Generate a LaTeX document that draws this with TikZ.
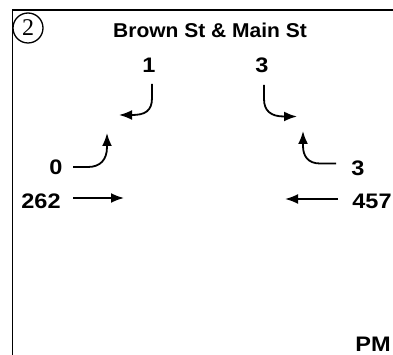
\documentclass[tikz,border=0pt]{standalone}
\usepackage{fontspec}
\setmainfont{Liberation Sans}
\newfontfamily\zonefont{Liberation Serif}
\usetikzlibrary{arrows.meta}

\tikzset{
  count/.style={font=\fontsize{21}{21}\selectfont\bfseries, xscale=1.12, inner sep=0pt},
  move/.style={line width=1.8pt, -{Latex[length=13pt,width=10pt]}},
}

\begin{document}
\begin{tikzpicture}[x=1pt,y=-1pt]
\useasboundingbox (0,0) rectangle (393,355);
% frame edges
\draw[line width=1.6pt] (12.5,355) -- (12.5,10) -- (393,10);
\node[draw, circle, line width=1.3pt, minimum size=30pt, inner sep=0pt,
      font=\zonefont\fontsize{24}{24}\selectfont] (zone) at (28,28) {2};
\node[font=\fontsize{20}{20}\selectfont\bfseries, xscale=1.05] (title) at (210,30) {Brown St \& Main St};

% southbound
\node[count] (sbl) at (149,65) {1};
\node[count] (sbr) at (262,65) {3};
\coordinate (sbl0) at (152,84);
\coordinate (sbr0) at (264,85);
\draw[move] (sbl0) -- (152,98) .. controls (152,111) and (145,115) .. (132,115) -- (119,115);
\draw[move] (sbr0) -- (264,99) .. controls (264,111) and (271,116.5) .. (284,116.5) -- (297,116.5);

% eastbound
\node[count] (ebl) at (56,167) {0};
\node[count] (ebt) at (41,201) {262};
\coordinate (ebl0) at (73,167);
\coordinate (ebt0) at (73,198);
\draw[move] (ebl0) -- (88,167) .. controls (100,167) and (107,160) .. (107,147) -- (107,133);
\draw[move] (ebt0) -- (124,198);

% westbound
\node[count] (wbl) at (358,168) {3};
\node[count] (wbt) at (372,201) {457};
\coordinate (wbl0) at (336,163.5);
\coordinate (wbt0) at (338,199);
\draw[move] (wbl0) -- (320,163.5) .. controls (308,163.5) and (303,156) .. (303,146) -- (303,131);
\draw[move] (wbt0) -- (285,199);

\node[font=\fontsize{21}{21}\selectfont\bfseries, xscale=1.12] (period) at (373,344) {PM};
\end{tikzpicture}
\end{document}
